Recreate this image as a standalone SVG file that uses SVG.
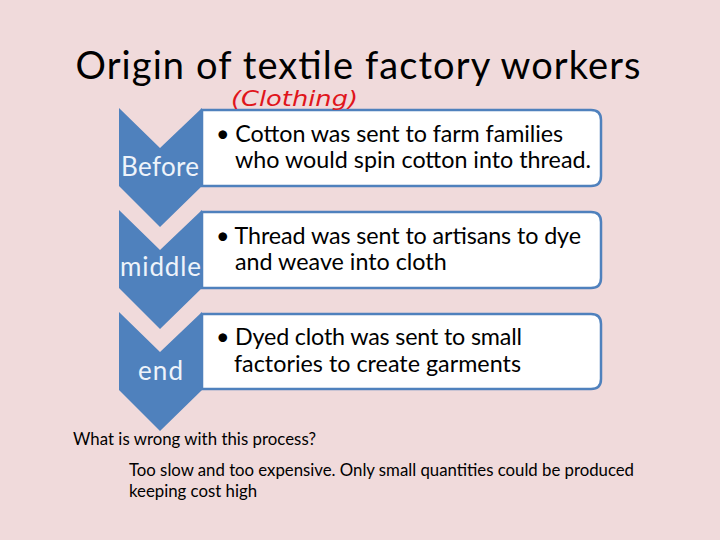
<svg xmlns="http://www.w3.org/2000/svg" width="720" height="540" viewBox="0 0 720 540">
<style>
.chev{fill:#4F81BD}
.box{fill:#FFFFFF;stroke:#4F81BD;stroke-width:2.5}
.lbl{font-family:Lato,"Open Sans",sans-serif;font-size:26px;fill:#EEF3FA;text-anchor:middle}
.bt{font-family:Lato,"Open Sans",sans-serif;font-size:23.3px;fill:#000}
.sm{font-family:Lato,"Open Sans",sans-serif;font-size:16.8px;fill:#000}
</style>
<rect width="720" height="540" fill="#F0DADB"/>
<text x="358" y="79" font-family="Lato,'Open Sans',sans-serif" font-size="38" text-anchor="middle" textLength="565" fill="#000">Origin of textile factory workers</text>
<g id="connectors"></g>
<g id="before">
<path class="box" d="M202,110 H591 Q601,110 601,120 V176 Q601,186 591,186 H202 Z"/>
<path class="chev" d="M119,108 L160,148 L202,108 V186 L160,227 L119,186 Z"/>
<text class="lbl" x="160" y="176" textLength="78">Before</text>
<text class="bt" x="216" y="142" textLength="347">• Cotton was sent to farm families</text>
<text class="bt" x="235" y="168" textLength="356">who would spin cotton into thread.</text>
</g>
<g id="middle">
<path class="box" d="M202,212 H591 Q601,212 601,222 V278 Q601,288 591,288 H202 Z"/>
<path class="chev" d="M119,210 L160,250 L202,210 V288 L160,329 L119,288 Z"/>
<text class="lbl" x="160.5" y="276" textLength="81">middle</text>
<text class="bt" x="216" y="244" textLength="365">• Thread was sent to artisans to dye</text>
<text class="bt" x="235" y="270">and weave into cloth</text>
</g>
<g id="end">
<path class="box" d="M202,314 H591 Q601,314 601,324 V379 Q601,389 591,389 H202 Z"/>
<path class="chev" d="M119,312 L160,352 L202,312 V390 L160,431 L119,390 Z"/>
<text class="lbl" x="160.5" y="380" textLength="45">end</text>
<text class="bt" x="216" y="345" textLength="306">• Dyed cloth was sent to small</text>
<text class="bt" x="234" y="372" textLength="287">factories to create garments</text>
</g>
<text x="231" y="106" font-family="'DejaVu Sans',sans-serif" font-style="italic" font-size="22" fill="#E0151B" textLength="127" lengthAdjust="spacingAndGlyphs">(Clothing)</text>
<text class="sm" x="73" y="445" textLength="243">What is wrong with this process?</text>
<text class="sm" x="129" y="476" textLength="505">Too slow and too expensive. Only small quantities could be produced</text>
<text class="sm" x="129" y="497">keeping cost high</text>
</svg>
